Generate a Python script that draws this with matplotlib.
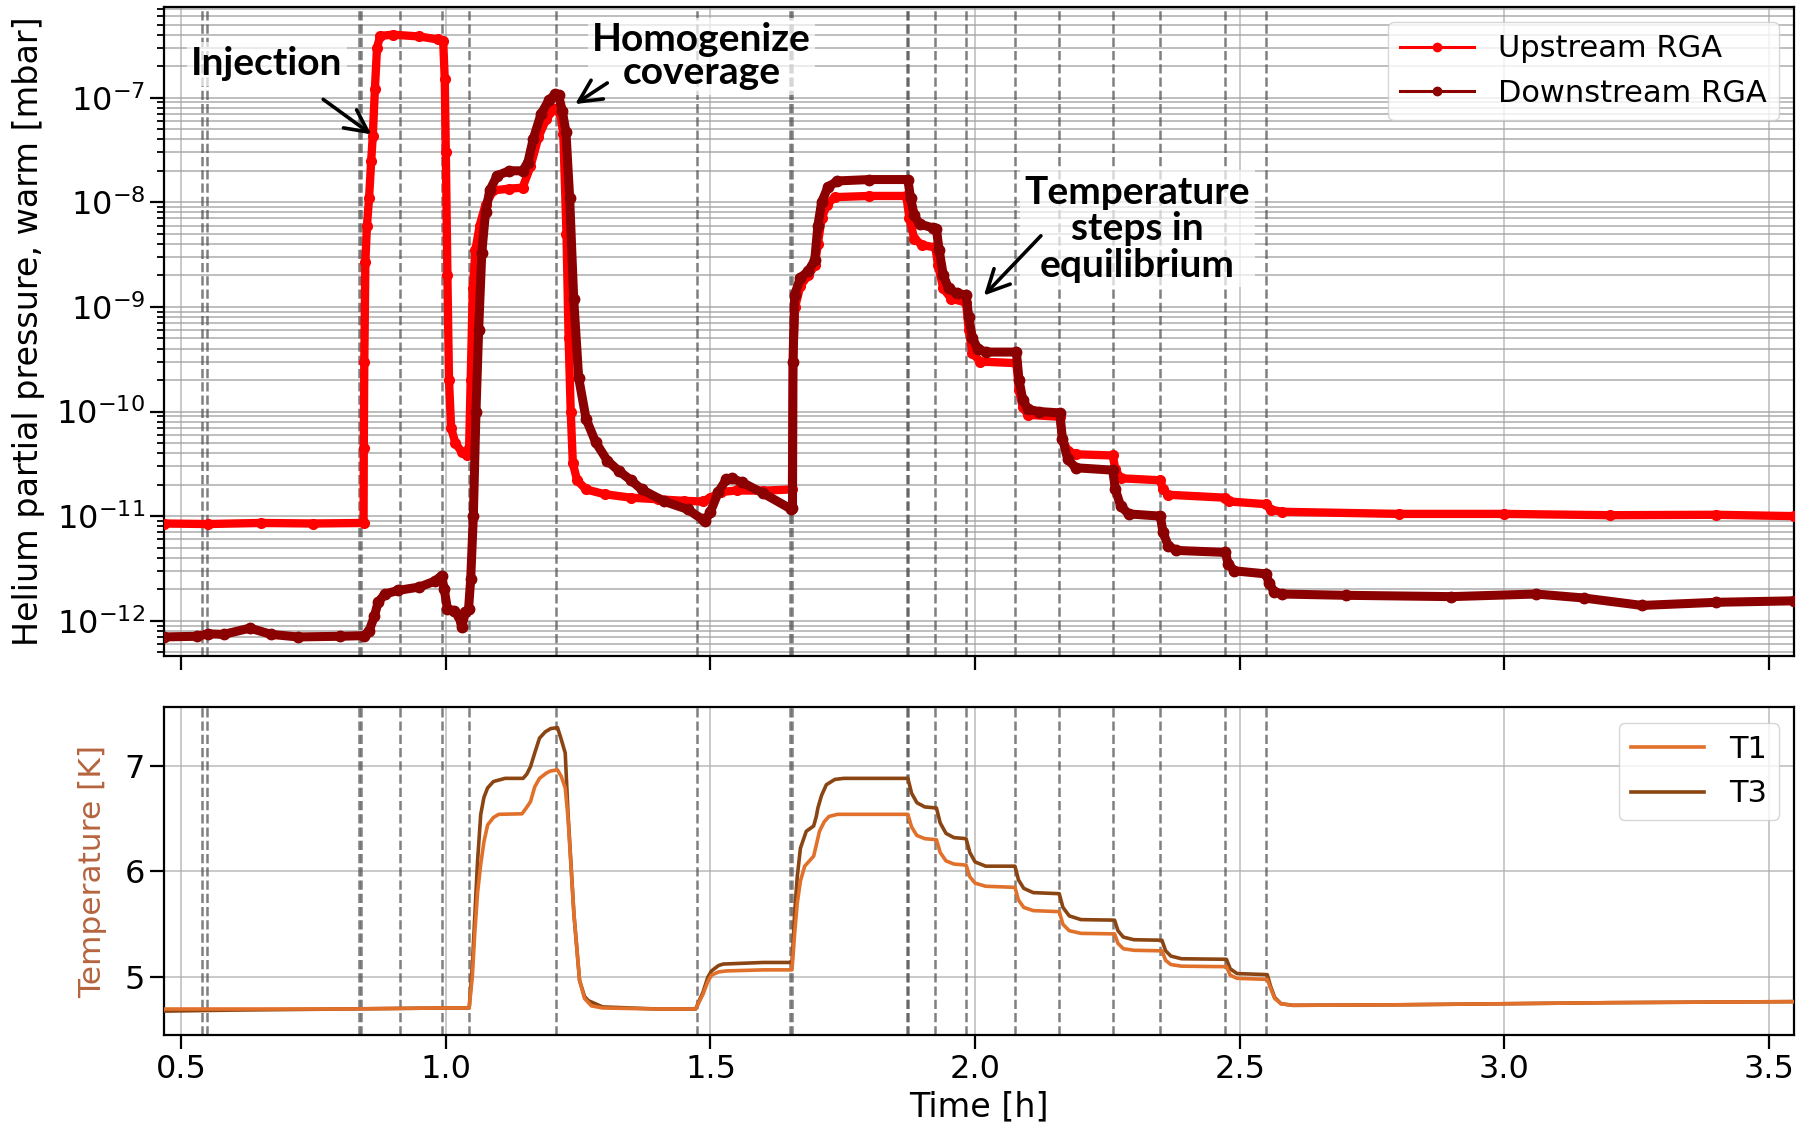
import matplotlib
matplotlib.use("Agg")
import matplotlib.pyplot as plt
from matplotlib.lines import Line2D

# --- data -----------------------------------------------------------------
# upstream RGA (time [h], pressure [mbar])
up_t = [0.467, 0.55, 0.65, 0.75, 0.8446, 0.8450, 0.846, 0.848, 0.851, 0.855, 0.859,
        0.862, 0.866, 0.870, 0.876, 0.90, 0.95, 0.985, 0.995, 0.998, 1.000, 1.003,
        1.006, 1.010, 1.018, 1.030, 1.040, 1.044, 1.047, 1.051, 1.056, 1.064, 1.075,
        1.09, 1.12, 1.145, 1.16, 1.175, 1.19, 1.205, 1.212, 1.216, 1.222, 1.228,
        1.232, 1.236, 1.240, 1.248, 1.265, 1.30, 1.35, 1.40, 1.45, 1.485, 1.50,
        1.52, 1.55, 1.60, 1.654, 1.656, 1.660, 1.670, 1.685, 1.697, 1.703, 1.710,
        1.720, 1.735, 1.80, 1.870, 1.876, 1.885, 1.90, 1.925, 1.93, 1.94, 1.955,
        1.983, 1.988, 1.995, 2.01, 2.078, 2.083, 2.09, 2.10, 2.16, 2.165, 2.175,
        2.19, 2.26, 2.265, 2.275, 2.35, 2.355, 2.365, 2.473, 2.48, 2.55, 2.56,
        2.58, 2.8, 3.0, 3.2, 3.4, 3.548]
up_p = [8.5e-12, 8.4e-12, 8.6e-12, 8.5e-12, 8.6e-12, 4.5e-11, 3e-10, 2.7e-9, 6e-9,
        1.1e-8, 2.5e-8, 4.3e-8, 1.2e-7, 3.0e-7, 3.9e-7, 4.0e-7, 3.85e-7, 3.6e-7,
        3.5e-7, 1.5e-7, 3e-8, 2e-9, 2e-10, 7e-11, 5e-11, 4.1e-11, 3.8e-11, 4.5e-11,
        2e-10, 1.5e-9, 3.5e-9, 6e-9, 9.5e-9, 1.3e-8, 1.35e-8, 1.38e-8, 2.2e-8,
        4.2e-8, 6.3e-8, 7.8e-8, 7.6e-8, 7.2e-8, 4.5e-8, 5e-9, 5e-10, 1e-10, 3.2e-11,
        2.2e-11, 1.8e-11, 1.62e-11, 1.5e-11, 1.45e-11, 1.4e-11, 1.38e-11, 1.5e-11,
        1.7e-11, 1.76e-11, 1.75e-11, 1.8e-11, 3e-10, 1.0e-9, 1.6e-9, 2.0e-9, 2.5e-9,
        4e-9, 7e-9, 9.5e-9, 1.12e-8, 1.15e-8, 1.15e-8, 7e-9, 4.5e-9, 3.9e-9, 3.7e-9,
        2.5e-9, 1.5e-9, 1.2e-9, 1.1e-9, 6e-10, 3.6e-10, 3e-10, 2.9e-10, 1.6e-10,
        1.1e-10, 9.3e-11, 8.9e-11, 5.5e-11, 4.2e-11, 3.9e-11, 3.8e-11, 2.8e-11,
        2.3e-11, 2.2e-11, 1.8e-11, 1.6e-11, 1.5e-11, 1.38e-11, 1.3e-11, 1.15e-11,
        1.1e-11, 1.05e-11, 1.05e-11, 1.02e-11, 1.03e-11, 1.0e-11]

# downstream RGA
down_t = [0.467, 0.53, 0.55, 0.58, 0.63, 0.67, 0.72, 0.80, 0.845, 0.855, 0.865,
          0.872, 0.885, 0.91, 0.95, 0.98, 0.992, 0.997, 1.003, 1.015, 1.025, 1.030,
          1.037, 1.043, 1.047, 1.052, 1.057, 1.062, 1.068, 1.075, 1.083, 1.097,
          1.12, 1.145, 1.155, 1.165, 1.18, 1.195, 1.207, 1.213, 1.22, 1.227, 1.234,
          1.2416, 1.251, 1.265, 1.283, 1.305, 1.327, 1.35, 1.37, 1.413, 1.457,
          1.485, 1.49, 1.50, 1.515, 1.53, 1.54, 1.56, 1.60, 1.652, 1.655, 1.656,
          1.659, 1.670, 1.685, 1.697, 1.703, 1.710, 1.722, 1.74, 1.80, 1.873,
          1.878, 1.885, 1.895, 1.92, 1.927, 1.932, 1.940, 1.950, 1.965, 1.983,
          1.988, 1.995, 2.005, 2.02, 2.078, 2.083, 2.09, 2.10, 2.12, 2.16, 2.165,
          2.175, 2.19, 2.26, 2.265, 2.275, 2.29, 2.35, 2.355, 2.365, 2.38, 2.473,
          2.478, 2.49, 2.55, 2.555, 2.565, 2.58, 2.7, 2.9, 3.06, 3.15, 3.26, 3.4,
          3.548]
down_p = [7.0e-13, 7.1e-13, 7.5e-13, 7.4e-13, 8.5e-13, 7.4e-13, 7.0e-13, 7.1e-13,
          7.2e-13, 8e-13, 1.1e-12, 1.5e-12, 1.8e-12, 1.95e-12, 2.1e-12, 2.4e-12,
          2.7e-12, 2.0e-12, 1.3e-12, 1.25e-12, 1.1e-12, 8.7e-13, 1.2e-12, 1.3e-12,
          2.5e-12, 1e-11, 1e-10, 6e-10, 3.3e-9, 8e-9, 1.3e-8, 1.8e-8, 2.0e-8,
          2.0e-8, 2.4e-8, 4e-8, 7e-8, 9.5e-8, 1.08e-7, 1.05e-7, 7.5e-8, 4.7e-8,
          1.1e-8, 1.2e-9, 2.1e-10, 8.5e-11, 5.1e-11, 3.4e-11, 2.7e-11, 2.2e-11,
          1.8e-11, 1.38e-11, 1.16e-11, 9.3e-12, 9.0e-12, 1.1e-11, 1.7e-11, 2.25e-11,
          2.3e-11, 2.1e-11, 1.65e-11, 1.17e-11, 1.2e-11, 3e-10, 1.3e-9, 1.9e-9,
          2.2e-9, 2.8e-9, 6e-9, 1e-8, 1.4e-8, 1.6e-8, 1.65e-8, 1.65e-8, 1.1e-8,
          7.5e-9, 6.2e-9, 5.7e-9, 5.5e-9, 3.5e-9, 2e-9, 1.5e-9, 1.35e-9, 1.3e-9,
          8e-10, 5e-10, 4e-10, 3.7e-10, 3.7e-10, 2e-10, 1.3e-10, 1.05e-10, 1e-10,
          9.7e-11, 5.5e-11, 3.5e-11, 2.9e-11, 2.75e-11, 1.8e-11, 1.25e-11, 1.05e-11,
          1.0e-11, 7e-12, 5.2e-12, 4.7e-12, 4.5e-12, 3.5e-12, 3e-12, 2.8e-12,
          2.3e-12, 1.9e-12, 1.8e-12, 1.75e-12, 1.7e-12, 1.8e-12, 1.65e-12, 1.4e-12,
          1.5e-12, 1.55e-12]

# temperatures (time [h], T [K])
t1_t = [0.467, 0.6, 0.8, 1.0, 1.044, 1.050, 1.055, 1.060, 1.066, 1.072, 1.079,
        1.09, 1.10, 1.144, 1.152, 1.160, 1.168, 1.177, 1.19, 1.198, 1.211, 1.218,
        1.2256, 1.231, 1.242, 1.2527, 1.262, 1.275, 1.296, 1.40, 1.472, 1.478,
        1.486, 1.495, 1.502, 1.515, 1.53, 1.60, 1.654, 1.656, 1.659, 1.664, 1.670,
        1.678, 1.687, 1.695, 1.700, 1.706, 1.715, 1.724, 1.74, 1.873, 1.880, 1.890,
        1.905, 1.927, 1.934, 1.945, 1.96, 1.983, 1.990, 2.000, 2.02, 2.0753, 2.082,
        2.092, 2.11, 2.159, 2.166, 2.178, 2.20, 2.2635, 2.27, 2.28, 2.30, 2.353,
        2.36, 2.37, 2.39, 2.475, 2.482, 2.495, 2.552, 2.558, 2.566, 2.578, 2.60,
        2.8, 3.0, 3.2, 3.548]
t1_v = [4.70, 4.70, 4.70, 4.71, 4.71, 5.0, 5.44, 5.8, 6.07, 6.28, 6.44, 6.51, 6.54,
        6.545, 6.60, 6.66, 6.80, 6.88, 6.93, 6.95, 6.96, 6.90, 6.79, 6.5, 5.6, 4.97,
        4.80, 4.73, 4.71, 4.70, 4.70, 4.76, 4.84, 4.96, 5.02, 5.05, 5.06, 5.07, 5.07,
        5.2, 5.41, 5.7, 5.91, 6.05, 6.10, 6.145, 6.25, 6.38, 6.47, 6.52, 6.54, 6.54,
        6.42, 6.34, 6.31, 6.30, 6.18, 6.10, 6.07, 6.06, 5.95, 5.89, 5.86, 5.85, 5.73,
        5.66, 5.63, 5.62, 5.50, 5.44, 5.415, 5.41, 5.32, 5.27, 5.255, 5.25, 5.16,
        5.12, 5.105, 5.10, 5.02, 4.99, 4.98, 4.9, 4.8, 4.75, 4.735, 4.74, 4.75, 4.76,
        4.77]
t3_t = [0.467, 0.6, 0.8, 1.0, 1.044, 1.0445, 1.050, 1.055, 1.060, 1.066, 1.072,
        1.079, 1.09, 1.112, 1.146, 1.153, 1.160, 1.168, 1.177, 1.188, 1.198, 1.211,
        1.218, 1.2256, 1.231, 1.242, 1.2527, 1.262, 1.269, 1.296, 1.40, 1.472,
        1.478, 1.486, 1.495, 1.502, 1.515, 1.524, 1.60, 1.654, 1.656, 1.659, 1.664,
        1.670, 1.681, 1.695, 1.700, 1.703, 1.710, 1.719, 1.735, 1.752, 1.873, 1.880,
        1.890, 1.905, 1.927, 1.934, 1.945, 1.96, 1.983, 1.990, 2.000, 2.02, 2.0753,
        2.082, 2.092, 2.11, 2.159, 2.166, 2.178, 2.20, 2.2635, 2.27, 2.28, 2.30,
        2.353, 2.36, 2.37, 2.39, 2.475, 2.482, 2.495, 2.552, 2.558, 2.566, 2.578,
        2.60, 2.8, 3.0, 3.2, 3.548]
t3_v = [4.68, 4.69, 4.70, 4.71, 4.71, 4.73, 5.1, 5.60, 6.1, 6.54, 6.7, 6.79, 6.85,
        6.88, 6.88, 6.92, 6.99, 7.12, 7.26, 7.32, 7.35, 7.36, 7.25, 7.12, 6.54, 5.60,
        4.97, 4.82, 4.78, 4.72, 4.70, 4.70, 4.77, 4.86, 5.0, 5.06, 5.11, 5.125, 5.14,
        5.14, 5.3, 5.6, 5.95, 6.22, 6.38, 6.43, 6.52, 6.60, 6.72, 6.82, 6.87, 6.88,
        6.88, 6.74, 6.65, 6.61, 6.60, 6.46, 6.36, 6.32, 6.31, 6.18, 6.09, 6.05, 6.05,
        5.92, 5.84, 5.80, 5.79, 5.66, 5.58, 5.545, 5.54, 5.44, 5.38, 5.355, 5.35,
        5.25, 5.20, 5.175, 5.17, 5.08, 5.035, 5.025, 4.92, 4.81, 4.75, 4.735, 4.74,
        4.75, 4.76, 4.77]

# times of the set-point changes (dashed markers)
step_times = [0.5394, 0.5488, 0.836, 0.8395, 0.914, 0.9935, 1.0444, 1.209, 1.4737,
              1.651, 1.654, 1.8714, 1.874, 1.9236, 1.9827, 2.0753, 2.159, 2.2606,
              2.350, 2.473, 2.550]

UP_COLOR = "red"
DOWN_COLOR = "darkred"
T1_COLOR = "#e0702a"
T3_COLOR = "#8b4513"
TLABEL_COLOR = "#b5653f"

plt.rcParams["font.size"] = 23
plt.rcParams["axes.linewidth"] = 1.6

fig = plt.figure(figsize=(17.98, 11.26), dpi=100)
ax1 = fig.add_axes([0.0912, 0.4174, 0.9068, 0.5766])
ax2 = fig.add_axes([0.0912, 0.0804, 0.9068, 0.2913], sharex=ax1)

# === pressure panel ===
ax1.plot(up_t, up_p, "-o", color=UP_COLOR, lw=6, ms=7, zorder=3)
ax1.plot(down_t, down_p, "-o", color=DOWN_COLOR, lw=6.5, ms=7.5, zorder=4)
ax1.set_yscale("log")
ax1.set_ylim(4.6e-13, 7.4e-7)
ax1.set_xlim(0.4675, 3.548)
ax1.grid(True, which="both", axis="y", color="#a0a0a0", lw=1.2, alpha=0.8)
ax1.grid(True, which="major", axis="x", color="#b0b0b0", lw=1.2, alpha=0.8)
ax1.set_ylabel("Helium partial pressure, warm [mbar]", fontsize=24)
ax1.yaxis.set_label_coords(-0.073, 0.5)
ax1.tick_params(axis="x", labelbottom=False, length=10, width=1.6)
ax1.tick_params(axis="y", which="major", length=10, width=1.6)
ax1.tick_params(axis="y", which="minor", length=5, width=1.3)

handles = [Line2D([], [], color=UP_COLOR, marker="o", lw=2.2, ms=6),
           Line2D([], [], color=DOWN_COLOR, marker="o", lw=2.2, ms=6)]
ax1.legend(handles, ["Upstream RGA", "Downstream RGA"], loc="upper right",
           fontsize=22, handlelength=2.4, framealpha=0.8)

# === temperature panel ===
ax2.plot(t1_t, t1_v, color=T1_COLOR, lw=2.6, label="T1", zorder=4)
ax2.plot(t3_t, t3_v, color=T3_COLOR, lw=2.6, label="T3", zorder=3)
ax2.set_ylim(4.45, 7.55)
ax2.set_yticks([5, 6, 7])
ax2.set_xticks([0.5, 1.0, 1.5, 2.0, 2.5, 3.0, 3.5])
ax2.grid(True, color="#b0b0b0", lw=1.2, alpha=0.8)
ax2.set_ylabel("Temperature [K]", color=TLABEL_COLOR, fontsize=22.5)
ax2.yaxis.set_label_coords(-0.035, 0.5)
ax2.set_xlabel("Time [h]", fontsize=24, labelpad=4)
ax2.tick_params(length=10, width=1.6)
ax2.legend(loc="upper right", fontsize=22, handlelength=2.4, framealpha=0.8)

for ax in (ax1, ax2):
    for ts in step_times:
        ax.axvline(ts, color="#555555", ls="--", lw=1.8, alpha=0.75, zorder=2)

# === annotations ===
note_font = dict(fontsize=28, fontweight="bold", family=["Lato", "DejaVu Sans"],
                 ha="center", va="center", zorder=6,
                 bbox=dict(facecolor="white", edgecolor="none", alpha=0.7, pad=3))
arrow = dict(arrowstyle="->,head_length=0.7,head_width=0.35", color="black", lw=2.6)

ax1.text(0.662, 2.1e-7, "Injection", **note_font)
ax1.annotate("", xy=(0.8636, 4.3e-8), xytext=(0.764, 1.0e-7), arrowprops=arrow, zorder=6)

ax1.text(1.483, 2.5e-7, "Homogenize\ncoverage", linespacing=0.95, **note_font)
ax1.annotate("", xy=(1.240, 8.4e-8), xytext=(1.3095, 1.43e-7), arrowprops=arrow, zorder=6)

ax1.text(2.307, 5.6e-9, "Temperature\nsteps in\nequilibrium", linespacing=1.05, **note_font)
ax1.annotate("", xy=(2.013, 1.23e-9), xytext=(2.128, 5.0e-9), arrowprops=arrow, zorder=6)

fig.savefig("out.png", dpi=100)
